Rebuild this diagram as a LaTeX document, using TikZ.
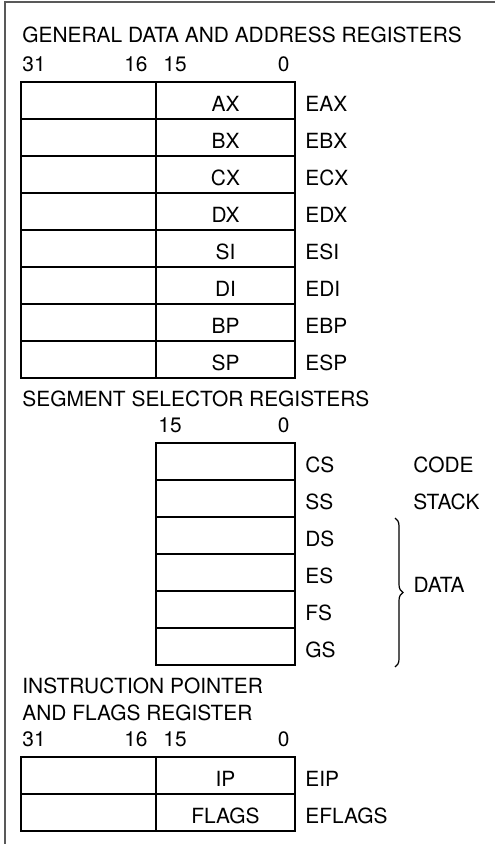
\documentclass[tikz,border=0pt]{standalone}
\usepackage{fontspec}
\setmainfont{TeX Gyre Heros}
\usetikzlibrary{calc,positioning,decorations.pathreplacing}

\tikzset{
	reg/.style={draw, line width=0.7pt, inner sep=0pt, outer sep=0pt, minimum height=18.5pt, text height=11pt, text depth=0pt},
	lo/.style={reg, minimum width=69.5pt},
	hi/.style={reg, minimum width=67.5pt},
	tag/.style={inner sep=0pt, text height=11pt, text depth=0pt},
	bit/.style={inner sep=0pt},
	heading/.style={inner sep=0pt, anchor=base west},
}

\begin{document}
\begin{tikzpicture}[
		font=\fontsize{10.45}{12.5}\selectfont,
		label distance=5pt,
		node distance=0pt,
		frame/.style={draw=black!65, line width=0.7pt},
		databrace/.style={decorate, decoration={brace, amplitude=4pt}, line width=0.6pt},
	]
	\useasboundingbox (0,0) rectangle (247.5pt,-422pt);
	\draw[frame] (2.5pt,-422pt) -- (2.5pt,-1pt) -- (247.5pt,-1pt);

	% general data and address registers
	\node[heading] (gentitle) at (11pt,-21.5pt) {GENERAL DATA AND ADDRESS REGISTERS};
	\node[lo, anchor=north west, label={[tag]right:EAX}] (ax) at (78pt,-41pt) {AX};
	\node[lo, below=of ax, label={[tag]right:EBX}] (bx) {BX};
	\node[lo, below=of bx, label={[tag]right:ECX}] (cx) {CX};
	\node[lo, below=of cx, label={[tag]right:EDX}] (dx) {DX};
	\node[lo, below=of dx, label={[tag]right:ESI}] (si) {SI};
	\node[lo, below=of si, label={[tag]right:EDI}] (di) {DI};
	\node[lo, below=of di, label={[tag]right:EBP}] (bp) {BP};
	\node[lo, below=of bp, label={[tag]right:ESP}] (sp) {SP};
	\node[hi, left=of ax] (axh) {};
	\node[hi, left=of bx] (bxh) {};
	\node[hi, left=of cx] (cxh) {};
	\node[hi, left=of dx] (dxh) {};
	\node[hi, left=of si] (sih) {};
	\node[hi, left=of di] (dih) {};
	\node[hi, left=of bp] (bph) {};
	\node[hi, left=of sp] (sph) {};
	\node[bit, above right=5pt and 0.5pt of axh.north west] (gen31) {31};
	\node[bit, above left=5pt and 4pt of axh.north east] (gen16) {16};
	\node[bit, above right=5pt and 3.5pt of ax.north west] (gen15) {15};
	\node[bit, above left=5pt and 2.5pt of ax.north east] (gen0) {0};

	% segment selector registers
	\node[heading] (segtitle) at (11pt,-203pt) {SEGMENT SELECTOR REGISTERS};
	\node[lo, anchor=north west, label={[tag]right:CS}] (cs) at (78pt,-221.5pt) {};
	\node[lo, below=of cs, label={[tag]right:SS}] (ss) {};
	\node[lo, below=of ss, label={[tag]right:DS}] (ds) {};
	\node[lo, below=of ds, label={[tag]right:ES}] (es) {};
	\node[lo, below=of es, label={[tag]right:FS}] (fs) {};
	\node[lo, below=of fs, label={[tag]right:GS}] (gs) {};
	\node[bit, above right=5pt and 1pt of cs.north west] (seg15) {15};
	\node[bit, above left=5pt and 2.5pt of cs.north east] (seg0) {0};
	\node[tag, right=59pt of cs] (code) {CODE};
	\node[tag, right=59pt of ss] (stack) {STACK};
	\draw[databrace] ($(ds.north east)+(50pt,-0.5pt)$) -- ($(gs.south east)+(50pt,-1pt)$)
		node[midway, inner sep=0pt, anchor=base west, xshift=9pt] (data) {DATA};

	% instruction pointer and flags
	\node[heading] (iptitle) at (11pt,-346.5pt) {INSTRUCTION POINTER};
	\node[heading] (fltitle) at (11pt,-360pt) {AND FLAGS REGISTER};
	\node[lo, anchor=north west, label={[tag]right:EIP}] (ip) at (78pt,-378.5pt) {IP};
	\node[lo, below=of ip, label={[tag]right:EFLAGS}] (flags) {FLAGS};
	\node[hi, left=of ip] (iph) {};
	\node[hi, left=of flags] (flagsh) {};
	\node[bit, above right=5pt and 0.5pt of iph.north west] (ip31) {31};
	\node[bit, above left=5pt and 4pt of iph.north east] (ip16) {16};
	\node[bit, above right=5pt and 3.5pt of ip.north west] (ip15) {15};
	\node[bit, above left=5pt and 2.5pt of ip.north east] (ip0) {0};
\end{tikzpicture}
\end{document}
